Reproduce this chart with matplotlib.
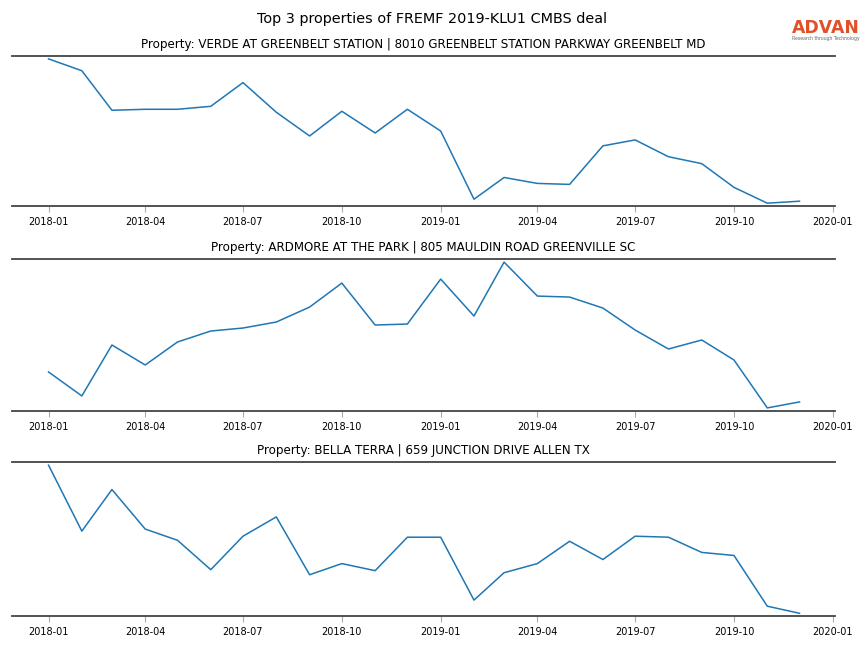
import matplotlib
matplotlib.use("Agg")
import matplotlib.pyplot as plt
import matplotlib.dates as mdates
import numpy as np
import pandas as pd

months = pd.date_range("2018-01-01", "2019-12-01", freq="MS")

titles = [
    "Property: VERDE AT GREENBELT STATION | 8010 GREENBELT STATION PARKWAY GREENBELT MD",
    "Property: ARDMORE AT THE PARK | 805 MAULDIN ROAD GREENVILLE SC",
    "Property: BELLA TERRA | 659 JUNCTION DRIVE ALLEN TX",
]

# valori (scala arbitraria)
verde = [147, 135, 95, 96, 96, 99, 123, 93, 69, 94, 72, 96,
         74, 5, 27, 21, 20, 59, 65, 48, 41, 17, 1, 3]
ardmore = [38, 14, 65, 45, 68, 79, 82, 88, 103, 127, 85, 86,
           131, 94, 148, 114, 113, 102, 80, 61, 70, 50, 2, 8]
bella = [149, 84, 125, 86, 75, 46, 79, 98, 41, 52, 45, 78,
         78, 16, 43, 52, 74, 56, 79, 78, 63, 60, 10, 3]

series = [verde, ardmore, bella]

fig = plt.figure(figsize=(8.64, 6.48), dpi=100)
fig.suptitle("Top 3 properties of FREMF 2019-KLU1 CMBS deal", fontsize=10.4, y=0.982)

# posizioni degli assi (in frazione della figura)
boxes = [(0.0139, 0.682, 0.9525, 0.2316),
         (0.0139, 0.366, 0.9525, 0.2340),
         (0.0139, 0.049, 0.9525, 0.2377)]

for box, vals, title in zip(boxes, series, titles):
    ax = fig.add_axes(box)
    ax.plot(months, vals, color="#1f77b4", linewidth=1.1)
    ax.set_title(title, fontsize=8.6, pad=6)
    ax.margins(x=0.05, y=0.02)
    ax.spines["left"].set_visible(False)
    ax.spines["right"].set_visible(False)
    for s in ("top", "bottom"):
        ax.spines[s].set_color("#444444")
        ax.spines[s].set_linewidth(1.3)
    ax.set_yticks([])
    ax.xaxis.set_major_locator(mdates.MonthLocator(bymonth=[1, 4, 7, 10]))
    ax.xaxis.set_major_formatter(mdates.DateFormatter("%Y-%m"))
    ax.tick_params(axis="x", labelsize=7, length=4, color="#aaaaaa", pad=4)
    ax.set_xlim(pd.Timestamp("2017-11-28"), pd.Timestamp("2020-01-03"))

# logo ADVAN
fig.text(0.9165, 0.943, "ADVAN", color="#e0502a", fontsize=12.4, fontweight="bold",
         ha="left", va="bottom")
fig.text(0.9165, 0.937, "Research through Technology", color="#666666", fontsize=3.3,
         ha="left", va="bottom")

fig.savefig("out.png", dpi=100)
